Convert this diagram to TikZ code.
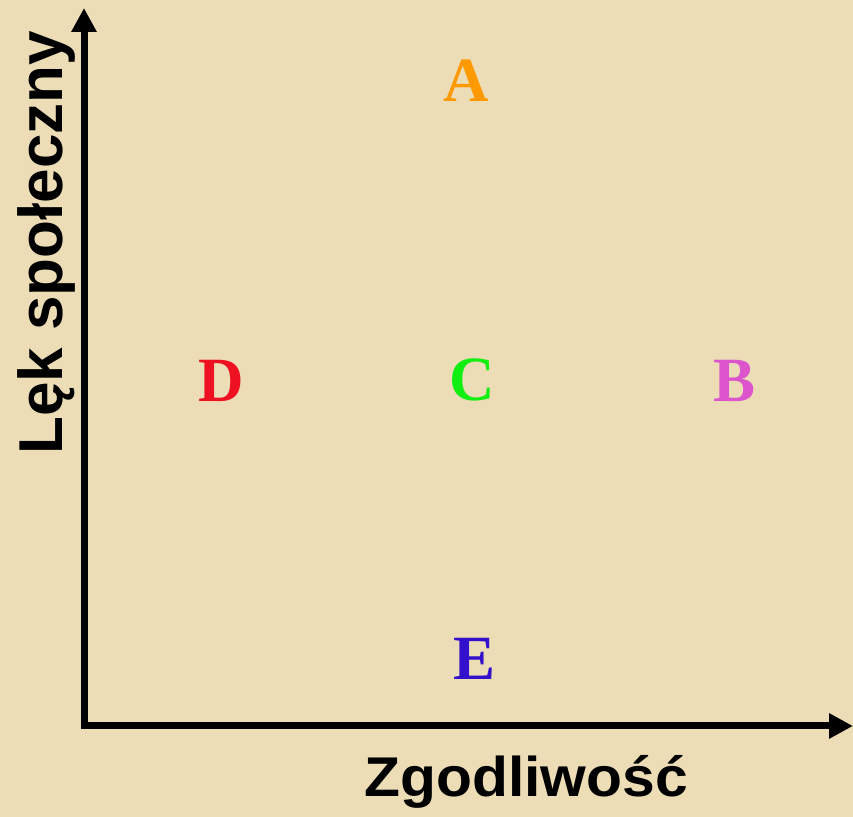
\documentclass[tikz,border=0pt]{standalone}
\usepackage{fontspec}
\setmainfont{Liberation Serif}
\newfontfamily\axisfont{Liberation Sans}
\usetikzlibrary{arrows.meta}
\definecolor{bgbeige}{HTML}{ECDDB6}
\definecolor{colA}{HTML}{FF9900}
\definecolor{colB}{HTML}{DD55CC}
\definecolor{colC}{HTML}{11EE11}
\definecolor{colD}{HTML}{EE1122}
\definecolor{colE}{HTML}{3311CC}
\def\axisW{3.5pt}
\def\letterSize{\fontsize{31.5}{32}\selectfont\bfseries}

\begin{document}
\begin{tikzpicture}[
    x=0.5pt, y=-0.5pt,
    >={Triangle[length=12pt,width=12pt]},
    axis/.style={line width=\axisW, ->},
    group/.style={inner sep=0pt, anchor=base, font=\letterSize},
    axislabel/.style={inner sep=0pt, font=\axisfont\bfseries}
]
\fill[bgbeige] (0,0) rectangle (853,817);
\useasboundingbox (0,0) rectangle (853,817);

% axes
\coordinate (origin) at (84,726);
\coordinate (ytop) at (84,8);
\coordinate (xend) at (853,726);
\draw[axis] ([yshift=-\axisW/2]origin) -- (ytop);
\draw[axis] (origin) -- (xend);

% axis labels
\node[axislabel, anchor=base west, rotate=90, font=\axisfont\bfseries\fontsize{31}{31}\selectfont]
    (ylab) at (62,455) {Lęk społeczny};
\node[axislabel, anchor=base west, xscale=1.05, font=\axisfont\bfseries\fontsize{28}{28}\selectfont]
    (xlab) at (364,797) {Zgodliwość};

% groups
\node[group, text=colA] (A) at (466,102) {A};
\node[group, text=colB] (B) at (735,402) {B};
\node[group, text=colC] (C) at (472,401) {C};
\node[group, text=colD] (D) at (221,402) {D};
\node[group, text=colE] (E) at (475,680) {E};
\end{tikzpicture}
\end{document}
